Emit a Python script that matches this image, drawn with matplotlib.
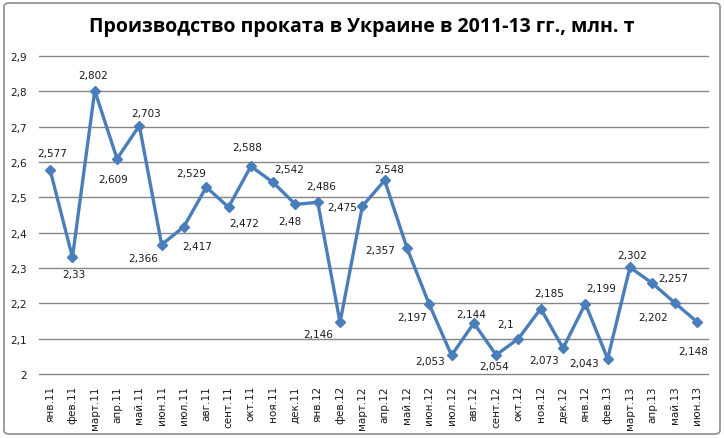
import matplotlib.pyplot as plt
from matplotlib.patches import FancyBboxPatch

months = [
    "янв.11", "фев.11", "март.11", "апр.11", "май.11", "июн.11",
    "июл.11", "авг.11", "сент.11", "окт.11", "ноя.11", "дек.11",
    "янв.12", "фев.12", "март.12", "апр.12", "май.12", "июн.12",
    "июл.12", "авг.12", "сент.12", "окт.12", "ноя.12", "дек.12",
    "янв.12", "фев.13", "март.13", "апр.13", "май.13", "июн.13",
]
output = [
    2.577, 2.33, 2.802, 2.609, 2.703, 2.366,
    2.417, 2.529, 2.472, 2.588, 2.542, 2.48,
    2.486, 2.146, 2.475, 2.548, 2.357, 2.197,
    2.053, 2.144, 2.054, 2.1, 2.185, 2.073,
    2.199, 2.043, 2.302, 2.257, 2.202, 2.148,
]
y_ticks = [2.0, 2.1, 2.2, 2.3, 2.4, 2.5, 2.6, 2.7, 2.8, 2.9]

# label offsets in pixels (dx, dy up)
label_offsets = [
    (2, 17), (1, -17), (-2, 16), (-4, -20), (7, 13), (-18, -13),
    (13, -19), (-15, 14), (16, -16), (-4, 19), (16, 13), (-6, -17),
    (3, 16), (-22, -12), (-20, -1), (5, 11), (-27, -2), (-17, -13),
    (-21, -6), (-3, 9), (-2, -11), (-13, 15), (8, 16), (-19, -12),
    (16, 16), (-24, -4), (2, 12), (21, 5), (-21, -14), (-4, -29),
]


def fmt(v):
    return f"{v:g}".replace(".", ",")


fig = plt.figure(figsize=(7.24, 4.39), dpi=100)
fig.patches.append(FancyBboxPatch(
    (4 / 724, 4 / 439), 716 / 724, 431 / 439,
    boxstyle="round,pad=0,rounding_size=0.008",
    transform=fig.transFigure, facecolor="none", edgecolor="#8c8c8c", linewidth=1.2,
))

ax = fig.add_axes([39 / 724, 1 - 375 / 439, 669 / 724, 318 / 439])
ax.set_facecolor("none")
x = list(range(len(months)))
ax.plot(x, output, color="#4A7EBB", linewidth=2.4, marker="D", markersize=5.5,
        markeredgecolor="#4A7EBB", zorder=3)

for i, v in enumerate(output):
    dx, dy = label_offsets[i]
    ax.annotate(fmt(v), (i, v), xytext=(dx, dy), textcoords="offset pixels",
                ha="center", va="center", fontsize=7.5, color="#1a1a1a")

ax.set_xlim(-0.5, len(months) - 0.5)
ax.set_ylim(2.0, 2.9)
ax.set_yticks(y_ticks)
ax.set_yticklabels([fmt(round(t, 1)) for t in y_ticks], fontsize=7.5, color="#1a1a1a")
ax.set_xticks(x)
ax.set_xticklabels(months, rotation=90, fontsize=7.5, color="#1a1a1a")
ax.tick_params(axis="y", length=0, pad=9)
ax.tick_params(axis="x", length=0, pad=8)
ax.grid(axis="y", color="#868686", linewidth=1)
for gl in ax.get_ygridlines():
    gl.set_clip_on(False)
ax.set_axisbelow(True)
for s in ax.spines.values():
    s.set_visible(False)

fig.text(0.5, 1 - 27 / 439, "Производство проката в Украине в 2011-13 гг., млн. т",
         ha="center", va="center", fontsize=14, fontweight="bold", family="Open Sans")

fig.savefig("out.png", dpi=100)
